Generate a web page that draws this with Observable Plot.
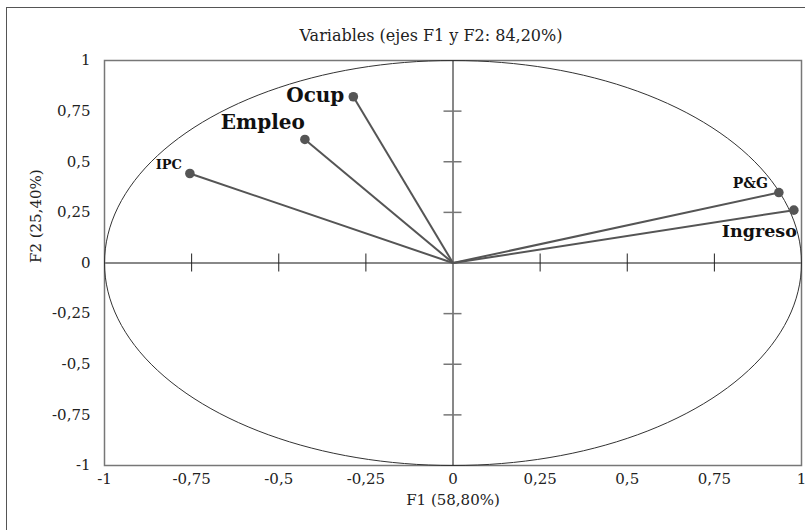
<!DOCTYPE html>
<html>
<head>
<meta charset="utf-8">
<script src="https://cdn.jsdelivr.net/npm/d3@7"></script>
<script src="https://cdn.jsdelivr.net/npm/@observablehq/plot@0.6"></script>
<style>
  html, body { margin: 0; padding: 0; overflow: hidden; background: white; }
  #wrap { position: relative; width: 805px; height: 530px; }
  #border { position: absolute; left: 6px; top: 7px; width: 900px; height: 600px; border: 1.5px solid #555; pointer-events: none; }
</style>
</head>
<body>
<div id="wrap"><div id="chart"></div><div id="border"></div></div>
<script>
const variables = ["IPC", "Empleo", "Ocup", "P&G", "Ingreso"];
const f1 = [-0.755, -0.425, -0.286, 0.935, 0.978];
const f2 = [0.442, 0.610, 0.821, 0.348, 0.261];
const tickValues = [-1, -0.75, -0.5, -0.25, 0, 0.25, 0.5, 0.75, 1];
const innerTicks = [-0.75, -0.5, -0.25, 0.25, 0.5, 0.75];
const title = "Variables (ejes F1 y F2: 84,20%)";
const xLabel = "F1 (58,80%)";
const yLabel = "F2 (25,40%)";

const data = variables.map((name, i) => ({name, x: f1[i], y: f2[i]}));
const circle = d3.range(0, 361, 2).map(a => ({x: Math.cos(a * Math.PI / 180), y: Math.sin(a * Math.PI / 180)}));
const fmt = d => String(d).replace(".", ",");
const only = n => data.filter(d => d.name === n);
const serif = "DejaVu Serif";
const labelOpts = {x: "x", y: "y", text: "name", fontFamily: serif, fontWeight: "bold", fill: "#111"};
const txt = {fontFamily: serif, fontSize: 15, fill: "#222"};

const chart = Plot.plot({
  width: 805,
  height: 530,
  marginTop: 60,
  marginBottom: 65,
  marginLeft: 104,
  marginRight: 4,
  style: {fontFamily: serif, fontSize: "15px", background: "transparent", color: "#222"},
  x: {domain: [-1, 1]},
  y: {domain: [-1, 1]},
  marks: [
    Plot.frame({stroke: "#777", strokeWidth: 1.5}),
    Plot.ruleY([0], {stroke: "#888", strokeWidth: 1.8}),
    Plot.ruleX([0], {stroke: "#111", strokeWidth: 1}),
    Plot.ruleX(innerTicks, {x: d => d, y1: 0, y2: 0, insetTop: -9, insetBottom: -9, stroke: "#222", strokeWidth: 1}),
    Plot.ruleY(innerTicks, {y: d => d, x1: 0, x2: 0, insetLeft: -9, insetRight: -9, stroke: "#777", strokeWidth: 1.5}),
    Plot.line(circle, {x: "x", y: "y", stroke: "#333", strokeWidth: 1}),
    Plot.link(data, {x1: 0, y1: 0, x2: "x", y2: "y", stroke: "#555", strokeWidth: 2}),
    Plot.dot(data, {x: "x", y: "y", r: 4.8, fill: "#555"}),
    Plot.text(only("IPC"), {...labelOpts, fontSize: 13, textAnchor: "end", dx: -8, dy: -9}),
    Plot.text(only("Empleo"), {...labelOpts, fontSize: 20, textAnchor: "end", dx: 0, dy: -17}),
    Plot.text(only("Ocup"), {...labelOpts, fontSize: 20, textAnchor: "end", dx: -9, dy: -1}),
    Plot.text(only("P&G"), {...labelOpts, fontSize: 14, textAnchor: "end", dx: -11, dy: -9}),
    Plot.text(only("Ingreso"), {...labelOpts, fontSize: 17.5, textAnchor: "end", dx: 3, dy: 21}),
    Plot.axisX(tickValues, {anchor: "bottom", tickSize: 0, tickPadding: 8, tickFormat: fmt, label: null, ...txt}),
    Plot.axisY(tickValues, {anchor: "left", tickSize: 0, tickPadding: 14, tickFormat: fmt, label: null, ...txt}),
    Plot.text([title], {frameAnchor: "top", text: d => d, dx: -22, dy: -31, ...txt, fontSize: 16}),
    Plot.text([xLabel], {frameAnchor: "bottom", text: d => d, dy: 39, ...txt}),
    Plot.text([yLabel], {frameAnchor: "left", text: d => d, dx: -68, rotate: -90, ...txt})
  ]
});
document.getElementById("chart").appendChild(chart);
</script>
</body>
</html>
